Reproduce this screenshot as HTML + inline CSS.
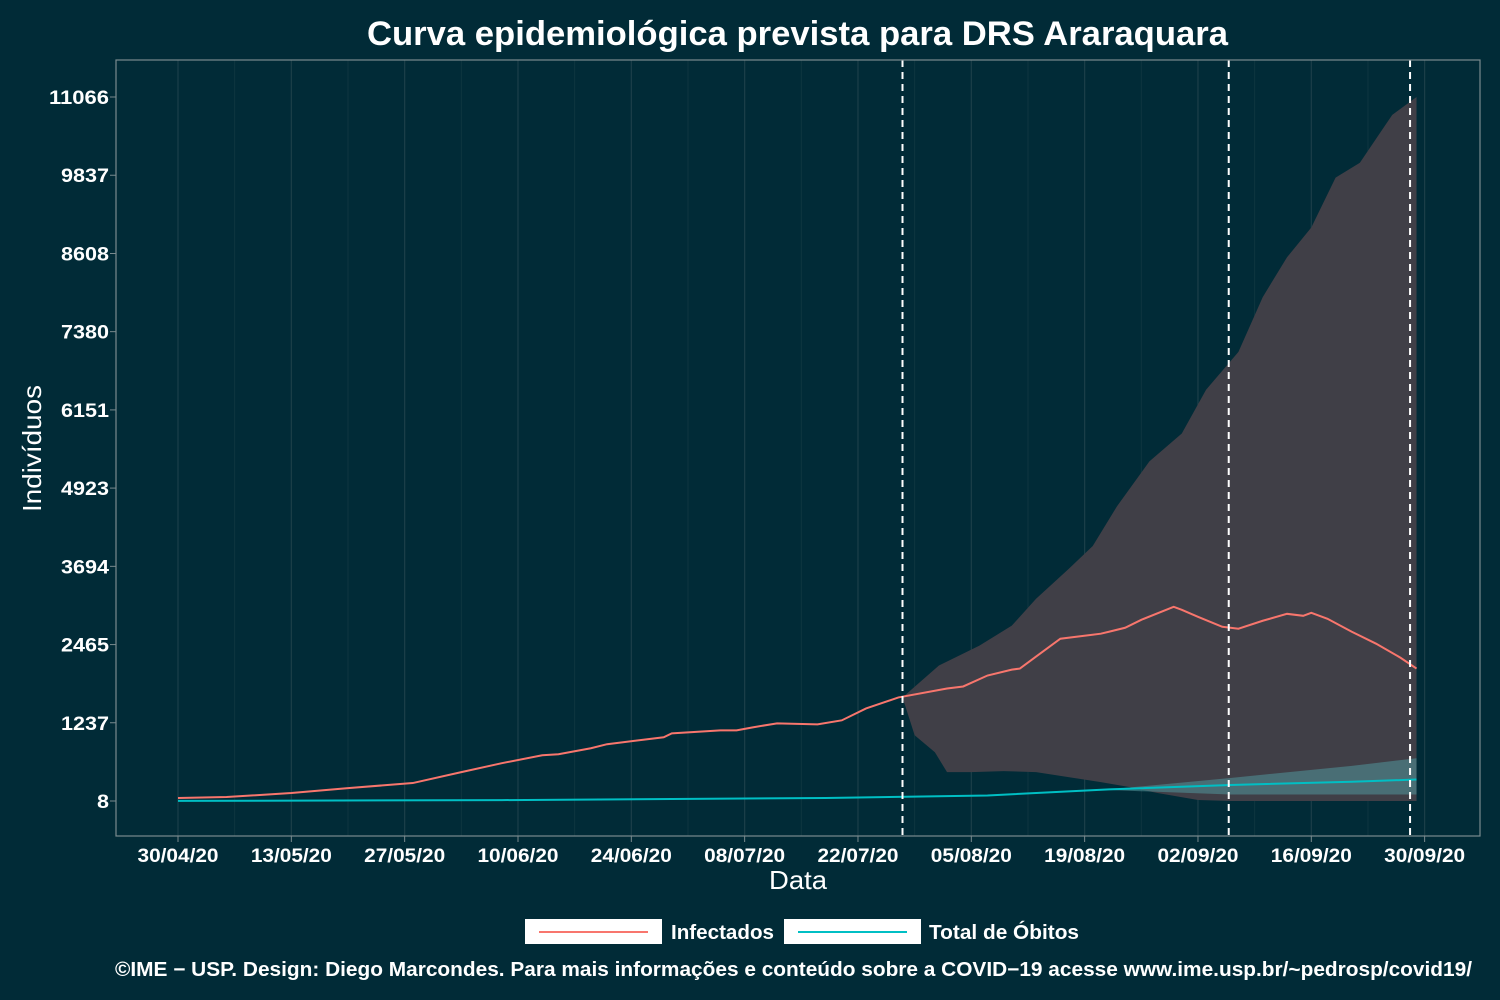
<!DOCTYPE html>
<html><head><meta charset="utf-8"><style>
html,body{margin:0;padding:0;background:#012b37;}
svg{display:block;font-family:"Liberation Sans",sans-serif;}
</style></head><body>
<svg id="chart" width="1500" height="1000">
<rect width="1500" height="1000" fill="#012b37"/>
<text x="367" y="45" textLength="861" lengthAdjust="spacingAndGlyphs" font-size="34" font-weight="bold" fill="#fff">Curva epidemiológica prevista para DRS Araraquara</text>
<g id="grid"></g>
<g id="marks"></g>
<rect x="116" y="60" width="1364" height="776" fill="none" stroke="#7a8a8e" stroke-width="1.2"/>
<g id="axes"></g>
<text x="769" y="889" textLength="58" lengthAdjust="spacingAndGlyphs" font-size="26" fill="#fff">Data</text>
<text transform="translate(41,512) rotate(-90)" textLength="127" lengthAdjust="spacingAndGlyphs" font-size="26" fill="#fff">Indivíduos</text>
<g>
<rect x="525" y="919" width="137" height="25" fill="#fff"/>
<line x1="539" y1="932" x2="648" y2="932" stroke="#f8766d" stroke-width="2"/>
<text x="671" y="939" textLength="103" lengthAdjust="spacingAndGlyphs" font-size="20" font-weight="bold" fill="#fff">Infectados</text>
<rect x="784" y="919" width="137" height="25" fill="#fff"/>
<line x1="798" y1="932" x2="907" y2="932" stroke="#00bfc4" stroke-width="2"/>
<text x="929" y="939" textLength="150" lengthAdjust="spacingAndGlyphs" font-size="20" font-weight="bold" fill="#fff">Total de Óbitos</text>
</g>
<text x="115" y="976" textLength="1357" lengthAdjust="spacingAndGlyphs" font-size="20" font-weight="bold" fill="#fff">©IME − USP. Design: Diego Marcondes. Para mais informações e conteúdo sobre a COVID−19 acesse www.ime.usp.br/~pedrosp/covid19/</text>
</svg>
<script>
const yTicks=[8,1237,2465,3694,4923,6151,7380,8608,9837,11066];
const xTickDays=[0,14,28,42,56,70,84,98,112,126,140,154];
const xTickLabels=["30/04/20","13/05/20","27/05/20","10/06/20","24/06/20","08/07/20","22/07/20","05/08/20","19/08/20","02/09/20","16/09/20","30/09/20"];
const vlineDays=[89.5,129.8,152.2];
const infDays=[0,6,14,21,29,35,40,45,47,51,53,60,61,67,69,71,74,79,82,85,89,95,97,100,103,104,106,109,114,115,117,119,123,124,126,129,131,134,137,139,140,142,145,148,151,153];
const infVals=[55,71,133,211,290,462,602,727,743,837,900,1009,1071,1118,1118,1165,1228,1212,1275,1462,1635,1775,1807,1979,2072,2088,2276,2557,2636,2667,2729,2854,3058,3011,2901,2745,2714,2839,2948,2917,2964,2870,2667,2479,2260,2088];
const bandUpDays=[89.5,94,99,103,106,110,113,116,120,124,127,131,134,137,140,143,146,150,153];
const bandUpVals=[1635,2136,2449,2762,3184,3650,4013,4638,5342,5780,6468,7063,7923,8548,9017,9800,10034,10786,11066];
const bandLoDays=[89.5,91,93.5,95,98,102,106,110,114,117.5,121,126,130,153];
const bandLoVals=[1635,1040,774,461,461,477,461,383,305,227,133,24,8,8];
const deathDays=[0,40,80,100,115,130,145,153];
const deathVals=[10,22,55,95,190,260,310,345];
const dBandDays=[115,130,145,153];
const dBandUp=[190,370,560,680];
const dBandLo=[180,110,110,110];

const X=d=>178+d*8.095;
const Y=v=>801-(v-8)*704/11058;
const NS="http://www.w3.org/2000/svg";
function mk(tag,attrs,parent){const e=document.createElementNS(NS,tag);for(const k in attrs)e.setAttribute(k,attrs[k]);parent.appendChild(e);return e;}
const grid=document.getElementById('grid'),marks=document.getElementById('marks'),axes=document.getElementById('axes');
for(let i=0;i<xTickDays.length;i++){
  const x=X(xTickDays[i]);
  const g=mk('line',{x1:x,x2:x,y1:60,y2:836,stroke:'#1c3f49','stroke-width':1.2},grid);
  
  
  if(i<xTickDays.length-1){const xm=X(xTickDays[i]+7);mk('line',{x1:xm,x2:xm,y1:60,y2:836,stroke:'#0f3640','stroke-width':1},grid);}
  mk('line',{x1:x,x2:x,y1:836,y2:842,stroke:'#7a8a8e'},axes);
  const lb=mk('text',{x:x,y:862,'text-anchor':'middle','font-size':19,'font-weight':'bold',fill:'#fff',textLength:81,lengthAdjust:'spacingAndGlyphs'},axes);
  lb.textContent=xTickLabels[i];
  
  
}
yTicks.forEach(v=>{
  const y=Y(v);
  mk('line',{x1:110,x2:116,y1:y,y2:y,stroke:'#7a8a8e'},axes);
  const s=String(v);
  const lb=mk('text',{x:109,y:y+7,'text-anchor':'end','font-size':19,'font-weight':'bold',fill:'#fff',textLength:s.length*12,lengthAdjust:'spacingAndGlyphs'},axes);
  lb.textContent=s;
  
  
});
function band(dU,vU,dL,vL,fill){
  let p='M'+dU.map((d,i)=>X(d)+','+Y(vU[i])).join('L');
  for(let i=dL.length-1;i>=0;i--)p+='L'+X(dL[i])+','+Y(vL[i]);
  return mk('path',{d:p+'Z',fill:fill},marks);
}
const b1=band(bandUpDays,bandUpVals,bandLoDays,bandLoVals,'#403f47');


const b2=band(dBandDays,dBandUp,dBandDays,dBandLo,'rgba(80,150,155,0.55)');


const l1=mk('polyline',{points:infDays.map((d,i)=>X(d)+','+Y(infVals[i])).join(' '),fill:'none',stroke:'#f8766d','stroke-width':2},marks);


const l2=mk('polyline',{points:deathDays.map((d,i)=>X(d)+','+Y(deathVals[i])).join(' '),fill:'none',stroke:'#00bfc4','stroke-width':2},marks);


vlineDays.forEach(d=>{
  const l=mk('line',{x1:X(d),x2:X(d),y1:60,y2:836,stroke:'#fff','stroke-width':2,'stroke-dasharray':'7,5'},marks);
  
  
});
</script>
</body></html>
